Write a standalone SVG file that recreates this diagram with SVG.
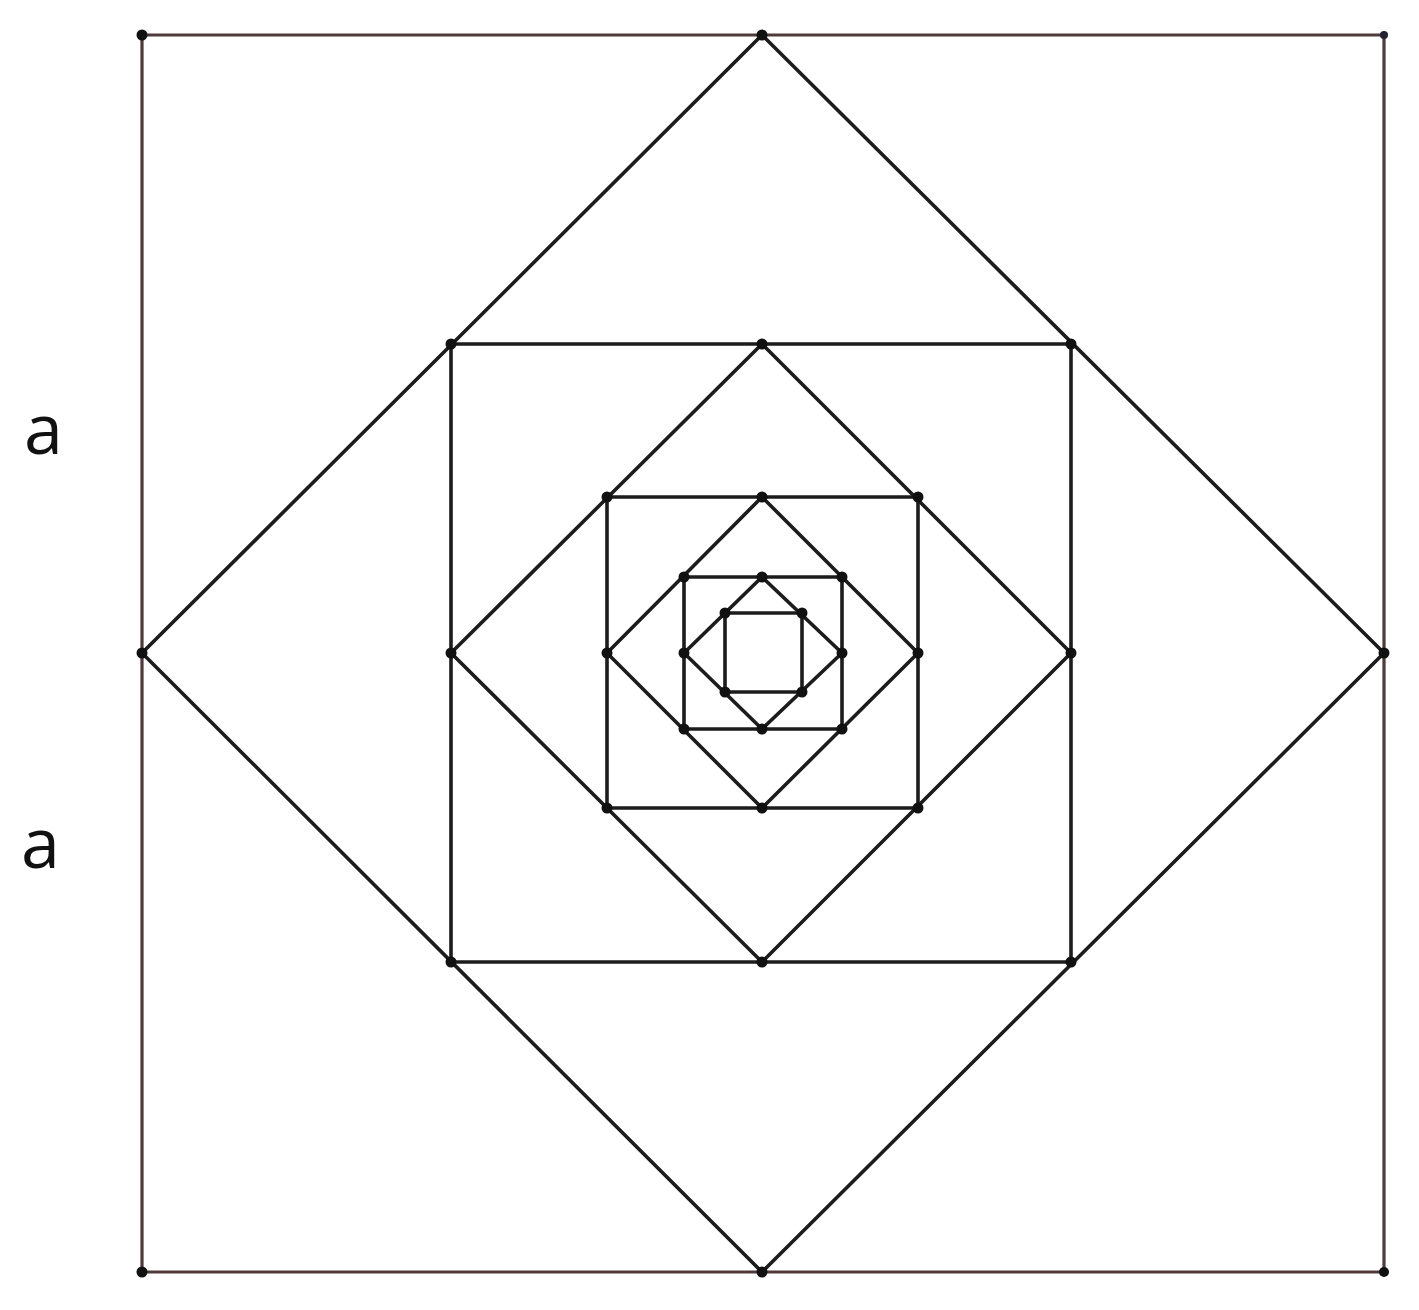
<svg xmlns="http://www.w3.org/2000/svg" width="1419" height="1310" viewBox="0 0 1419 1310">
<style>
.outer{fill:none;stroke:#4e3a3a;stroke-width:3.2}
.ln{fill:none;stroke:#1c1c1c;stroke-width:3.6;stroke-linejoin:round}
.pt{fill:#111}
.lbl{font-family:"Open Sans","Liberation Sans",sans-serif;font-size:70px;fill:#111}
</style>
<rect width="1419" height="1310" fill="#fff"/>
<g id="connectors">
<polygon id="sq1" class="outer" points="142,35 1384,35 1384,1272 142,1272"/>
<polygon id="dm1" class="ln" points="762,35 1384,653 762,1272 142,653"/>
<polygon id="sq2" class="ln" points="451,344 1071,344 1071,962 451,962"/>
<polygon id="dm2" class="ln" points="762,344 1071,653 762,962 451,653"/>
<polygon id="sq3" class="ln" points="607,497 918,497 918,808 607,808"/>
<polygon id="dm3" class="ln" points="762,497 918,653 762,808 607,653"/>
<polygon id="sq4" class="ln" points="684,577 842,577 842,729 684,729"/>
<polygon id="dm4" class="ln" points="762,577 842,653 762,729 684,653"/>
<polygon id="sq5" class="ln" points="725,613 802,613 802,692 725,692"/>
</g>
<g id="points">
<circle class="pt" cx="142" cy="35" r="5.5"/><circle cx="1384" cy="35" r="4" fill="#223"/>
<circle class="pt" cx="142" cy="1272" r="5.5"/><circle class="pt" cx="1384" cy="1272" r="5"/>
<circle class="pt" cx="762" cy="35" r="5.5"/><circle class="pt" cx="1384" cy="653" r="5.5"/>
<circle class="pt" cx="762" cy="1272" r="5.5"/><circle class="pt" cx="142" cy="653" r="5.5"/>
<circle class="pt" cx="451" cy="344" r="5.5"/><circle class="pt" cx="1071" cy="344" r="5.5"/>
<circle class="pt" cx="1071" cy="962" r="5.5"/><circle class="pt" cx="451" cy="962" r="5.5"/>
<circle class="pt" cx="762" cy="344" r="5.5"/><circle class="pt" cx="1071" cy="653" r="5.5"/>
<circle class="pt" cx="762" cy="962" r="5.5"/><circle class="pt" cx="451" cy="653" r="5.5"/>
<circle class="pt" cx="607" cy="497" r="5.5"/><circle class="pt" cx="918" cy="497" r="5.5"/>
<circle class="pt" cx="918" cy="808" r="5.5"/><circle class="pt" cx="607" cy="808" r="5.5"/>
<circle class="pt" cx="762" cy="497" r="5.5"/><circle class="pt" cx="918" cy="653" r="5.5"/>
<circle class="pt" cx="762" cy="808" r="5.5"/><circle class="pt" cx="607" cy="653" r="5.5"/>
<circle class="pt" cx="684" cy="577" r="5.5"/><circle class="pt" cx="842" cy="577" r="5.5"/>
<circle class="pt" cx="842" cy="729" r="5.5"/><circle class="pt" cx="684" cy="729" r="5.5"/>
<circle class="pt" cx="762" cy="577" r="5.5"/><circle class="pt" cx="842" cy="653" r="5.5"/>
<circle class="pt" cx="762" cy="729" r="5.5"/><circle class="pt" cx="684" cy="653" r="5.5"/>
<circle class="pt" cx="725" cy="613" r="5.5"/><circle class="pt" cx="802" cy="613" r="5.5"/>
<circle class="pt" cx="802" cy="692" r="5.5"/><circle class="pt" cx="725" cy="692" r="5.5"/>
</g>
<g id="labels">
<text id="label-a1" class="lbl" x="24" y="454">a</text>
<text id="label-a2" class="lbl" x="21" y="868">a</text>
</g>
</svg>
